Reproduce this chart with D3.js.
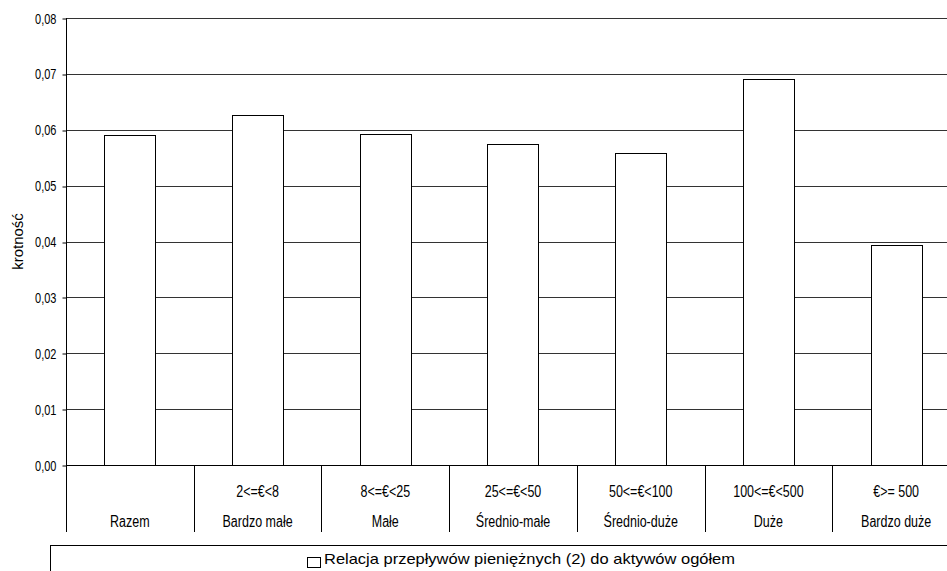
<!DOCTYPE html>
<html>
<head>
<meta charset="utf-8">
<script src="https://cdn.jsdelivr.net/npm/d3@7"></script>
<style>
  html, body { margin: 0; padding: 0; background: #fff; }
  svg { display: block; font-family: "Liberation Sans", Arial, sans-serif; }
</style>
</head>
<body>
<svg id="chart" width="947" height="571"></svg>
<script>
const categories = ["Razem", "Bardzo małe", "Małe", "Średnio-małe", "Średnio-duże", "Duże", "Bardzo duże"];
const ranges = ["", "2<=€<8", "8<=€<25", "25<=€<50", "50<=€<100", "100<=€<500", "€>= 500"];
const values = [0.0590, 0.0626, 0.0592, 0.0574, 0.0558, 0.0691, 0.0393];
const yTicks = [0, 0.01, 0.02, 0.03, 0.04, 0.05, 0.06, 0.07, 0.08];
const yLabel = "krotność";
const legendLabel = "Relacja przepływów pieniężnych (2) do aktywów ogółem";

(function () {
const svg = d3.select("#chart");
const mLeft = 66, mRight = 960, mTop = 18, mBottom = 465;
const stretch = 1.3; // reference text is vertically stretched

const x = d3.scaleBand().domain(categories).range([mLeft, mRight]).paddingInner(0.6).paddingOuter(0.3);
const y = d3.scaleLinear().domain([0, 0.08]).range([mBottom, mTop]);
const step = x.step();

// gridlines
svg.append("g").selectAll("line").data(yTicks.slice(1)).join("line")
  .attr("x1", mLeft).attr("x2", mRight)
  .attr("y1", d => Math.round(y(d)) + 0.5).attr("y2", d => Math.round(y(d)) + 0.5)
  .attr("stroke", "#333").attr("stroke-width", 1);

// bars
svg.append("g").selectAll("rect").data(values).join("rect")
  .attr("x", (d, i) => Math.round(x(categories[i])) + 0.5)
  .attr("y", d => Math.round(y(d)) + 0.5)
  .attr("width", Math.round(x.bandwidth()))
  .attr("height", d => Math.round(y(0)) - Math.round(y(d)))
  .attr("fill", "#fff").attr("stroke", "#000").attr("stroke-width", 1);

// y axis
const yAxis = d3.axisLeft(y).tickValues(yTicks).tickSize(4).tickSizeOuter(0)
  .tickFormat(d => d3.format(".2f")(d).replace(".", ","));
const gy = svg.append("g").attr("transform", `translate(${mLeft + 0.5},0.5)`).call(yAxis);
gy.select(".domain").remove();
gy.selectAll(".tick line").attr("stroke", "#000").attr("transform", d => `translate(0,${Math.round(y(d)) - y(d)})`);
gy.selectAll(".tick text")
  .attr("x", null).attr("dy", null)
  .attr("transform", `translate(-10,4.5) scale(1,${stretch})`)
  .attr("font-size", 11).attr("font-family", "Liberation Sans, Arial, sans-serif").attr("fill", "#000");

// vertical axis line (extends into category area)
svg.append("line").attr("x1", mLeft + 0.5).attr("x2", mLeft + 0.5).attr("y1", mTop).attr("y2", 532)
  .attr("stroke", "#000");
// x axis baseline
svg.append("line").attr("x1", mLeft).attr("x2", mRight).attr("y1", Math.round(y(0)) + 0.5).attr("y2", Math.round(y(0)) + 0.5)
  .attr("stroke", "#000");

// category separators
const seps = d3.range(1, categories.length + 1).map(i => mLeft + i * step);
svg.append("g").selectAll("line").data(seps).join("line")
  .attr("x1", d => Math.round(d) + 0.5).attr("x2", d => Math.round(d) + 0.5)
  .attr("y1", Math.round(y(0))).attr("y2", 532).attr("stroke", "#000");

// category labels
const cx = c => x(c) + x.bandwidth() / 2;
svg.append("g").selectAll("text").data(ranges).join("text")
  .attr("transform", (d, i) => `translate(${cx(categories[i])},497) scale(1,${stretch})`)
  .attr("text-anchor", "middle").attr("font-size", 12.5).attr("fill", "#000").text(d => d);
svg.append("g").selectAll("text").data(categories).join("text")
  .attr("transform", d => `translate(${cx(d)},527) scale(1,${stretch})`)
  .attr("text-anchor", "middle").attr("font-size", 12.5).attr("fill", "#000").text(d => d);

// y label
svg.append("text").attr("transform", `translate(23,${(mTop + mBottom) / 2}) rotate(-90)`)
  .attr("text-anchor", "middle").attr("font-size", 15).attr("fill", "#000").text(yLabel);

// legend box
svg.append("rect").attr("x", 50.5).attr("y", 545.5).attr("width", 910).attr("height", 40)
  .attr("fill", "none").attr("stroke", "#000");
const lg = svg.append("g");
lg.append("rect").attr("x", 307.5).attr("y", 557.5).attr("width", 13).attr("height", 10)
  .attr("fill", "#fff").attr("stroke", "#000");
lg.append("text").attr("x", 324).attr("y", 564).attr("font-size", 15)
  .attr("textLength", 411).attr("lengthAdjust", "spacingAndGlyphs")
  .attr("fill", "#000").text(legendLabel);
})();
</script>
</body>
</html>
